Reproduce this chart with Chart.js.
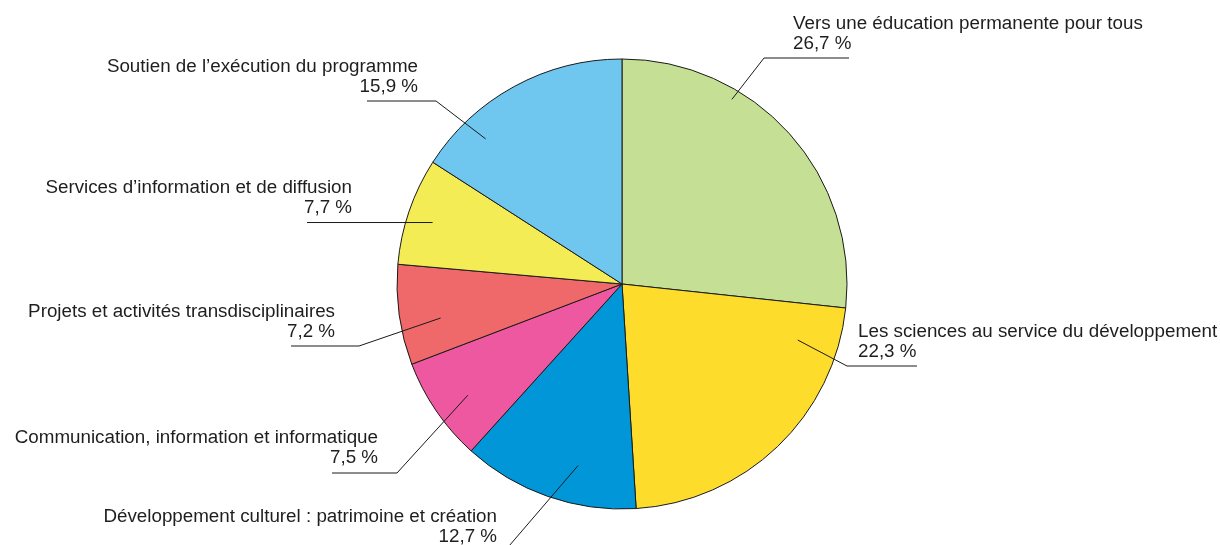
<!DOCTYPE html>
<html lang="fr">
<head>
<meta charset="utf-8">
<title>Répartition du programme</title>
<script src="https://cdn.jsdelivr.net/npm/chart.js@4.4.1/dist/chart.umd.min.js"></script>
<style>
  html, body { margin: 0; padding: 0; background: #ffffff; }
  #wrap { width: 1220px; height: 545px; }
</style>
</head>
<body>
<div id="wrap"><canvas id="pie" width="1220" height="545"></canvas></div>
<script>
// Programme areas, clockwise from 12 o'clock
const categories = [
  "Vers une éducation permanente pour tous",
  "Les sciences au service du développement",
  "Développement culturel : patrimoine et création",
  "Communication, information et informatique",
  "Projets et activités transdisciplinaires",
  "Services d’information et de diffusion",
  "Soutien de l’exécution du programme"
];

// Share of the budget, in percent
const shares = [26.7, 22.3, 12.7, 7.5, 7.2, 7.7, 15.9];

const sliceColors = ["#c5df95", "#fedc2c", "#0096d8", "#ee58a0", "#ef686a", "#f3ec55", "#6fc6ee"];

// Callout layout for each slice:
//  at / depth : where the leader starts inside the slice (fraction of its sweep, fraction of radius)
//  elbow      : where the leader meets the underline
//  lineTo     : x where the underline ends
//  tx, ty     : text anchor (first baseline), align : text alignment
const callouts = [
  { at: 0.32,  depth: 0.955, elbow: [764, 58],  lineTo: 849, tx: 793, ty: 29,  align: "left"  },
  { at: 0.144, depth: 0.82,  elbow: [847, 366], lineTo: 917, tx: 858, ty: 337, align: "left"  },
  { at: 0.376, depth: 0.83,  elbow: [497, 560], lineTo: 430, tx: 497, ty: 522, align: "right" },
  { at: 0.447, depth: 0.845, elbow: [397, 473], lineTo: 332, tx: 378, ty: 443, align: "right" },
  { at: 0.396, depth: 0.82,  elbow: [359, 346], lineTo: 291, tx: 335, ty: 317, align: "right" },
  { at: 0.467, depth: 0.885, elbow: null,       lineTo: 307, tx: 352, ty: 193, align: "right" },
  { at: 0.245, depth: 0.885, elbow: [436, 101], lineTo: 367, tx: 418, ty: 72,  align: "right" }
];

const LABEL_FONT = '18.8px "Liberation Sans", Arial, sans-serif';
const LINE_GAP = 19.5;

function formatShare(v) {
  return v.toFixed(1).replace(".", ",") + " %";
}

// Draws leader lines and two-line labels next to each slice
const calloutPlugin = {
  id: "callouts",
  afterDatasetsDraw(chart) {
    const ctx = chart.ctx;
    const meta = chart.getDatasetMeta(0);
    ctx.save();
    ctx.strokeStyle = "#1a1a1a";
    ctx.lineWidth = 1;
    ctx.fillStyle = "#1e1e1e";
    ctx.font = LABEL_FONT;
    ctx.textBaseline = "alphabetic";
    meta.data.forEach((arc, i) => {
      const c = callouts[i];
      const p = arc.getProps(["x", "y", "startAngle", "endAngle", "outerRadius"], true);
      const a = p.startAngle + c.at * (p.endAngle - p.startAngle);
      const r = p.outerRadius * c.depth;
      const ax = p.x + r * Math.cos(a);
      const ay = p.y + r * Math.sin(a);
      const ex = c.elbow ? c.elbow[0] : ax;
      const ey = c.elbow ? c.elbow[1] : ay;
      ctx.beginPath();
      ctx.moveTo(ax, ay);
      ctx.lineTo(ex, ey);
      ctx.lineTo(c.lineTo, ey);
      ctx.stroke();
      ctx.textAlign = c.align;
      ctx.fillText(chart.data.labels[i], c.tx, c.ty);
      ctx.fillText(formatShare(chart.data.datasets[0].data[i]), c.tx, c.ty + LINE_GAP);
    });
    ctx.restore();
  }
};

new Chart(document.getElementById("pie"), {
  type: "pie",
  data: {
    labels: categories,
    datasets: [{
      data: shares,
      backgroundColor: sliceColors,
      borderColor: "#1a1a1a",
      borderWidth: 1
    }]
  },
  options: {
    responsive: false,
    devicePixelRatio: 1,
    animation: false,
    radius: 225,
    layout: { padding: { left: 397, right: 373, top: 59, bottom: 36 } },
    plugins: {
      legend: { display: false },
      tooltip: { enabled: false }
    }
  },
  plugins: [calloutPlugin]
});
</script>
</body>
</html>
